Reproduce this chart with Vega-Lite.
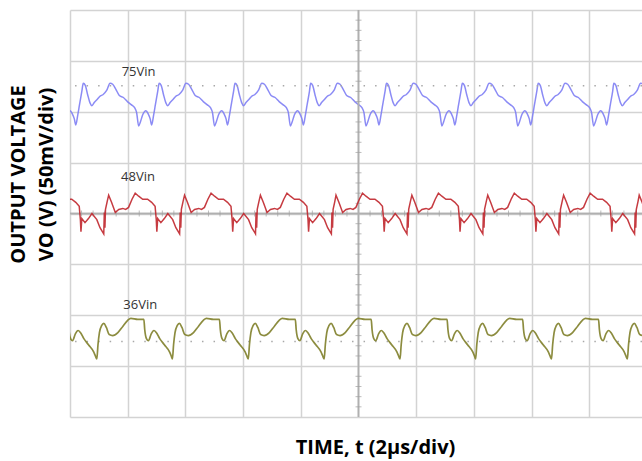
{
  "$schema": "https://vega.github.io/schema/vega-lite/v6.json",
  "width": 572,
  "height": 407,
  "autosize": {"type": "none"},
  "padding": {"left": 70, "top": 10, "right": 0, "bottom": 44},
  "background": "#ffffff",
  "config": {
    "view": {"stroke": null},
    "axis": {"domain": false, "ticks": false, "labels": false, "grid": true, "gridColor": "#d3d3d3", "gridWidth": 1.5, "titleFont": "Open Sans", "titleFontWeight": "bold", "titleColor": "#000000"}
  },
  "datasets": {
    "v75": [
      {"t": -0.25, "v": 286}, {"t": -0.19, "v": 290}, {"t": -0.11, "v": 297}, {"t": 0.0, "v": 301}, {"t": 0.08, "v": 298}, {"t": 0.15, "v": 293}, {"t": 0.2, "v": 287}, {"t": 0.27, "v": 297}, {"t": 0.33, "v": 307}, {"t": 0.41, "v": 320},
      {"t": 0.46, "v": 328}, {"t": 0.53, "v": 326}, {"t": 0.61, "v": 317}, {"t": 0.69, "v": 309}, {"t": 0.76, "v": 306}, {"t": 0.84, "v": 309}, {"t": 0.94, "v": 312}, {"t": 1.03, "v": 315}, {"t": 1.15, "v": 317}, {"t": 1.27, "v": 321}, {"t": 1.39, "v": 328}, {"t": 1.48, "v": 327}, {"t": 1.59, "v": 322}, {"t": 1.71, "v": 316}, {"t": 1.85, "v": 314}, {"t": 1.99, "v": 310}, {"t": 2.12, "v": 307}, {"t": 2.24, "v": 304}, {"t": 2.31, "v": 299}, {"t": 2.38, "v": 286}, {"t": 2.44, "v": 290}, {"t": 2.52, "v": 297}, {"t": 2.63, "v": 301}, {"t": 2.71, "v": 298}, {"t": 2.78, "v": 293}, {"t": 2.83, "v": 287}, {"t": 2.9, "v": 297}, {"t": 2.96, "v": 307}, {"t": 3.04, "v": 320},
      {"t": 3.09, "v": 328}, {"t": 3.16, "v": 326}, {"t": 3.24, "v": 317}, {"t": 3.32, "v": 309}, {"t": 3.39, "v": 306}, {"t": 3.47, "v": 309}, {"t": 3.57, "v": 312}, {"t": 3.66, "v": 315}, {"t": 3.78, "v": 317}, {"t": 3.9, "v": 321}, {"t": 4.02, "v": 328}, {"t": 4.11, "v": 327}, {"t": 4.22, "v": 322}, {"t": 4.34, "v": 316}, {"t": 4.48, "v": 314}, {"t": 4.62, "v": 310}, {"t": 4.75, "v": 307}, {"t": 4.87, "v": 304}, {"t": 4.94, "v": 299}, {"t": 5.01, "v": 286}, {"t": 5.07, "v": 290}, {"t": 5.15, "v": 297}, {"t": 5.26, "v": 301}, {"t": 5.34, "v": 298}, {"t": 5.41, "v": 293}, {"t": 5.46, "v": 287}, {"t": 5.53, "v": 297}, {"t": 5.59, "v": 307}, {"t": 5.67, "v": 320},
      {"t": 5.72, "v": 328}, {"t": 5.79, "v": 326}, {"t": 5.87, "v": 317}, {"t": 5.95, "v": 309}, {"t": 6.02, "v": 306}, {"t": 6.1, "v": 309}, {"t": 6.2, "v": 312}, {"t": 6.29, "v": 315}, {"t": 6.41, "v": 317}, {"t": 6.53, "v": 321}, {"t": 6.65, "v": 328}, {"t": 6.74, "v": 327}, {"t": 6.85, "v": 322}, {"t": 6.97, "v": 316}, {"t": 7.11, "v": 314}, {"t": 7.25, "v": 310}, {"t": 7.38, "v": 307}, {"t": 7.5, "v": 304}, {"t": 7.57, "v": 299}, {"t": 7.64, "v": 286}, {"t": 7.7, "v": 290}, {"t": 7.78, "v": 297}, {"t": 7.89, "v": 301}, {"t": 7.97, "v": 298}, {"t": 8.04, "v": 293}, {"t": 8.09, "v": 287}, {"t": 8.16, "v": 297}, {"t": 8.22, "v": 307}, {"t": 8.3, "v": 320},
      {"t": 8.34, "v": 328}, {"t": 8.41, "v": 326}, {"t": 8.49, "v": 317}, {"t": 8.57, "v": 309}, {"t": 8.64, "v": 306}, {"t": 8.72, "v": 309}, {"t": 8.82, "v": 312}, {"t": 8.91, "v": 315}, {"t": 9.03, "v": 317}, {"t": 9.15, "v": 321}, {"t": 9.27, "v": 328}, {"t": 9.36, "v": 327}, {"t": 9.47, "v": 322}, {"t": 9.59, "v": 316}, {"t": 9.73, "v": 314}, {"t": 9.87, "v": 310}, {"t": 10.0, "v": 307}, {"t": 10.12, "v": 304}, {"t": 10.19, "v": 299}, {"t": 10.26, "v": 286}, {"t": 10.32, "v": 290}, {"t": 10.4, "v": 297}, {"t": 10.51, "v": 301}, {"t": 10.59, "v": 298}, {"t": 10.66, "v": 293}, {"t": 10.71, "v": 287}, {"t": 10.78, "v": 297}, {"t": 10.84, "v": 307}, {"t": 10.92, "v": 320},
      {"t": 10.97, "v": 328}, {"t": 11.04, "v": 326}, {"t": 11.12, "v": 317}, {"t": 11.2, "v": 309}, {"t": 11.27, "v": 306}, {"t": 11.35, "v": 309}, {"t": 11.45, "v": 312}, {"t": 11.54, "v": 315}, {"t": 11.66, "v": 317}, {"t": 11.78, "v": 321}, {"t": 11.9, "v": 328}, {"t": 11.99, "v": 327}, {"t": 12.1, "v": 322}, {"t": 12.22, "v": 316}, {"t": 12.36, "v": 314}, {"t": 12.5, "v": 310}, {"t": 12.63, "v": 307}, {"t": 12.75, "v": 304}, {"t": 12.82, "v": 299}, {"t": 12.89, "v": 286}, {"t": 12.95, "v": 290}, {"t": 13.03, "v": 297}, {"t": 13.14, "v": 301}, {"t": 13.22, "v": 298}, {"t": 13.29, "v": 293}, {"t": 13.34, "v": 287}, {"t": 13.41, "v": 297}, {"t": 13.47, "v": 307}, {"t": 13.55, "v": 320},
      {"t": 13.6, "v": 328}, {"t": 13.67, "v": 326}, {"t": 13.75, "v": 317}, {"t": 13.83, "v": 309}, {"t": 13.9, "v": 306}, {"t": 13.98, "v": 309}, {"t": 14.08, "v": 312}, {"t": 14.17, "v": 315}, {"t": 14.29, "v": 317}, {"t": 14.41, "v": 321}, {"t": 14.53, "v": 328}, {"t": 14.62, "v": 327}, {"t": 14.73, "v": 322}, {"t": 14.85, "v": 316}, {"t": 14.99, "v": 314}, {"t": 15.13, "v": 310}, {"t": 15.26, "v": 307}, {"t": 15.38, "v": 304}, {"t": 15.45, "v": 299}, {"t": 15.52, "v": 286}, {"t": 15.58, "v": 290}, {"t": 15.66, "v": 297}, {"t": 15.77, "v": 301}, {"t": 15.85, "v": 298}, {"t": 15.92, "v": 293}, {"t": 15.97, "v": 287}, {"t": 16.04, "v": 297}, {"t": 16.1, "v": 307}, {"t": 16.18, "v": 320},
      {"t": 16.23, "v": 328}, {"t": 16.3, "v": 326}, {"t": 16.38, "v": 317}, {"t": 16.46, "v": 309}, {"t": 16.53, "v": 306}, {"t": 16.61, "v": 309}, {"t": 16.71, "v": 312}, {"t": 16.8, "v": 315}, {"t": 16.92, "v": 317}, {"t": 17.04, "v": 321}, {"t": 17.16, "v": 328}, {"t": 17.25, "v": 327}, {"t": 17.36, "v": 322}, {"t": 17.48, "v": 316}, {"t": 17.62, "v": 314}, {"t": 17.76, "v": 310}, {"t": 17.89, "v": 307}, {"t": 18.01, "v": 304}, {"t": 18.08, "v": 299}, {"t": 18.15, "v": 286}, {"t": 18.21, "v": 290}, {"t": 18.29, "v": 297}, {"t": 18.4, "v": 301}, {"t": 18.48, "v": 298}, {"t": 18.55, "v": 293}, {"t": 18.6, "v": 287}, {"t": 18.67, "v": 297}, {"t": 18.73, "v": 307}, {"t": 18.81, "v": 320},
      {"t": 18.85, "v": 328}, {"t": 18.92, "v": 326}, {"t": 19.0, "v": 317}, {"t": 19.08, "v": 309}, {"t": 19.15, "v": 306}, {"t": 19.23, "v": 309}, {"t": 19.33, "v": 312}, {"t": 19.42, "v": 315}, {"t": 19.54, "v": 317}, {"t": 19.66, "v": 321}, {"t": 19.78, "v": 328}, {"t": 19.87, "v": 327}, {"t": 19.98, "v": 322}
    ],
    "v48": [
      {"t": -0.25, "v": 217}, {"t": -0.11, "v": 214}, {"t": 0.06, "v": 214}, {"t": 0.2, "v": 211}, {"t": 0.32, "v": 207}, {"t": 0.36, "v": 194}, {"t": 0.38, "v": 182}, {"t": 0.41, "v": 195}, {"t": 0.52, "v": 191}, {"t": 0.64, "v": 195}, {"t": 0.76, "v": 200}, {"t": 0.93, "v": 194}, {"t": 1.04, "v": 186}, {"t": 1.17, "v": 180}, {"t": 1.19, "v": 201}, {"t": 1.21, "v": 186}, {"t": 1.23, "v": 204}, {"t": 1.29, "v": 212},
      {"t": 1.34, "v": 218}, {"t": 1.44, "v": 211}, {"t": 1.57, "v": 201}, {"t": 1.69, "v": 204}, {"t": 1.83, "v": 205}, {"t": 1.93, "v": 204}, {"t": 2.03, "v": 206}, {"t": 2.15, "v": 214}, {"t": 2.26, "v": 220}, {"t": 2.38, "v": 217}, {"t": 2.52, "v": 214}, {"t": 2.69, "v": 214}, {"t": 2.83, "v": 211}, {"t": 2.95, "v": 207}, {"t": 2.99, "v": 194}, {"t": 3.01, "v": 182}, {"t": 3.04, "v": 195}, {"t": 3.15, "v": 191}, {"t": 3.27, "v": 195}, {"t": 3.39, "v": 200}, {"t": 3.56, "v": 194}, {"t": 3.67, "v": 186}, {"t": 3.8, "v": 180}, {"t": 3.82, "v": 201}, {"t": 3.84, "v": 186}, {"t": 3.86, "v": 204}, {"t": 3.92, "v": 212},
      {"t": 3.97, "v": 218}, {"t": 4.07, "v": 211}, {"t": 4.2, "v": 201}, {"t": 4.32, "v": 204}, {"t": 4.46, "v": 205}, {"t": 4.56, "v": 204}, {"t": 4.66, "v": 206}, {"t": 4.78, "v": 214}, {"t": 4.89, "v": 220}, {"t": 5.01, "v": 217}, {"t": 5.15, "v": 214}, {"t": 5.32, "v": 214}, {"t": 5.46, "v": 211}, {"t": 5.58, "v": 207}, {"t": 5.62, "v": 194}, {"t": 5.64, "v": 182}, {"t": 5.67, "v": 195}, {"t": 5.78, "v": 191}, {"t": 5.9, "v": 195}, {"t": 6.02, "v": 200}, {"t": 6.19, "v": 194}, {"t": 6.3, "v": 186}, {"t": 6.43, "v": 180}, {"t": 6.45, "v": 201}, {"t": 6.47, "v": 186}, {"t": 6.49, "v": 204}, {"t": 6.55, "v": 212},
      {"t": 6.6, "v": 218}, {"t": 6.7, "v": 211}, {"t": 6.83, "v": 201}, {"t": 6.95, "v": 204}, {"t": 7.09, "v": 205}, {"t": 7.19, "v": 204}, {"t": 7.29, "v": 206}, {"t": 7.41, "v": 214}, {"t": 7.52, "v": 220}, {"t": 7.64, "v": 217}, {"t": 7.78, "v": 214}, {"t": 7.95, "v": 214}, {"t": 8.09, "v": 211}, {"t": 8.21, "v": 207}, {"t": 8.25, "v": 194}, {"t": 8.27, "v": 182}, {"t": 8.3, "v": 195}, {"t": 8.41, "v": 191}, {"t": 8.53, "v": 195}, {"t": 8.65, "v": 200}, {"t": 8.82, "v": 194}, {"t": 8.93, "v": 186}, {"t": 9.06, "v": 180}, {"t": 9.08, "v": 201}, {"t": 9.1, "v": 186}, {"t": 9.12, "v": 204}, {"t": 9.18, "v": 212},
      {"t": 9.22, "v": 218}, {"t": 9.32, "v": 211}, {"t": 9.45, "v": 201}, {"t": 9.57, "v": 204}, {"t": 9.71, "v": 205}, {"t": 9.81, "v": 204}, {"t": 9.91, "v": 206}, {"t": 10.03, "v": 214}, {"t": 10.14, "v": 220}, {"t": 10.26, "v": 217}, {"t": 10.4, "v": 214}, {"t": 10.57, "v": 214}, {"t": 10.71, "v": 211}, {"t": 10.83, "v": 207}, {"t": 10.87, "v": 194}, {"t": 10.89, "v": 182}, {"t": 10.92, "v": 195}, {"t": 11.03, "v": 191}, {"t": 11.15, "v": 195}, {"t": 11.27, "v": 200}, {"t": 11.44, "v": 194}, {"t": 11.55, "v": 186}, {"t": 11.68, "v": 180}, {"t": 11.7, "v": 201}, {"t": 11.72, "v": 186}, {"t": 11.74, "v": 204}, {"t": 11.8, "v": 212},
      {"t": 11.85, "v": 218}, {"t": 11.95, "v": 211}, {"t": 12.08, "v": 201}, {"t": 12.2, "v": 204}, {"t": 12.34, "v": 205}, {"t": 12.44, "v": 204}, {"t": 12.54, "v": 206}, {"t": 12.66, "v": 214}, {"t": 12.77, "v": 220}, {"t": 12.89, "v": 217}, {"t": 13.03, "v": 214}, {"t": 13.2, "v": 214}, {"t": 13.34, "v": 211}, {"t": 13.46, "v": 207}, {"t": 13.5, "v": 194}, {"t": 13.52, "v": 182}, {"t": 13.55, "v": 195}, {"t": 13.66, "v": 191}, {"t": 13.78, "v": 195}, {"t": 13.9, "v": 200}, {"t": 14.07, "v": 194}, {"t": 14.18, "v": 186}, {"t": 14.31, "v": 180}, {"t": 14.33, "v": 201}, {"t": 14.35, "v": 186}, {"t": 14.37, "v": 204}, {"t": 14.43, "v": 212},
      {"t": 14.48, "v": 218}, {"t": 14.58, "v": 211}, {"t": 14.71, "v": 201}, {"t": 14.83, "v": 204}, {"t": 14.97, "v": 205}, {"t": 15.07, "v": 204}, {"t": 15.17, "v": 206}, {"t": 15.29, "v": 214}, {"t": 15.4, "v": 220}, {"t": 15.52, "v": 217}, {"t": 15.66, "v": 214}, {"t": 15.83, "v": 214}, {"t": 15.97, "v": 211}, {"t": 16.09, "v": 207}, {"t": 16.13, "v": 194}, {"t": 16.15, "v": 182}, {"t": 16.18, "v": 195}, {"t": 16.29, "v": 191}, {"t": 16.41, "v": 195}, {"t": 16.53, "v": 200}, {"t": 16.7, "v": 194}, {"t": 16.81, "v": 186}, {"t": 16.94, "v": 180}, {"t": 16.96, "v": 201}, {"t": 16.98, "v": 186}, {"t": 17.0, "v": 204}, {"t": 17.06, "v": 212},
      {"t": 17.11, "v": 218}, {"t": 17.21, "v": 211}, {"t": 17.34, "v": 201}, {"t": 17.46, "v": 204}, {"t": 17.6, "v": 205}, {"t": 17.7, "v": 204}, {"t": 17.8, "v": 206}, {"t": 17.92, "v": 214}, {"t": 18.03, "v": 220}, {"t": 18.15, "v": 217}, {"t": 18.29, "v": 214}, {"t": 18.46, "v": 214}, {"t": 18.6, "v": 211}, {"t": 18.72, "v": 207}, {"t": 18.76, "v": 194}, {"t": 18.78, "v": 182}, {"t": 18.81, "v": 195}, {"t": 18.92, "v": 191}, {"t": 19.04, "v": 195}, {"t": 19.16, "v": 200}, {"t": 19.33, "v": 194}, {"t": 19.44, "v": 186}, {"t": 19.57, "v": 180}, {"t": 19.59, "v": 201}, {"t": 19.61, "v": 186}, {"t": 19.63, "v": 204}, {"t": 19.69, "v": 212},
      {"t": 19.73, "v": 218}, {"t": 19.83, "v": 211}, {"t": 19.96, "v": 201}
    ],
    "v36": [
      {"t": -0.28, "v": 96}, {"t": -0.07, "v": 96}, {"t": -0.04, "v": 86}, {"t": 0.02, "v": 77}, {"t": 0.09, "v": 75}, {"t": 0.19, "v": 82}, {"t": 0.28, "v": 85}, {"t": 0.36, "v": 83}, {"t": 0.48, "v": 77}, {"t": 0.64, "v": 71}, {"t": 0.82, "v": 64}, {"t": 0.88, "v": 60},
      {"t": 0.93, "v": 57}, {"t": 0.97, "v": 71}, {"t": 1.02, "v": 83}, {"t": 1.1, "v": 90}, {"t": 1.17, "v": 92}, {"t": 1.26, "v": 88}, {"t": 1.36, "v": 81}, {"t": 1.48, "v": 80}, {"t": 1.66, "v": 83}, {"t": 1.83, "v": 89}, {"t": 2.0, "v": 95}, {"t": 2.11, "v": 97}, {"t": 2.35, "v": 96}, {"t": 2.56, "v": 96}, {"t": 2.59, "v": 86}, {"t": 2.65, "v": 77}, {"t": 2.72, "v": 75}, {"t": 2.82, "v": 82}, {"t": 2.91, "v": 85}, {"t": 2.99, "v": 83}, {"t": 3.11, "v": 77}, {"t": 3.27, "v": 71}, {"t": 3.45, "v": 64}, {"t": 3.51, "v": 60},
      {"t": 3.55, "v": 57}, {"t": 3.59, "v": 71}, {"t": 3.64, "v": 83}, {"t": 3.72, "v": 90}, {"t": 3.79, "v": 92}, {"t": 3.88, "v": 88}, {"t": 3.98, "v": 81}, {"t": 4.1, "v": 80}, {"t": 4.28, "v": 83}, {"t": 4.45, "v": 89}, {"t": 4.62, "v": 95}, {"t": 4.73, "v": 97}, {"t": 4.97, "v": 96}, {"t": 5.18, "v": 96}, {"t": 5.21, "v": 86}, {"t": 5.27, "v": 77}, {"t": 5.34, "v": 75}, {"t": 5.44, "v": 82}, {"t": 5.53, "v": 85}, {"t": 5.61, "v": 83}, {"t": 5.73, "v": 77}, {"t": 5.89, "v": 71}, {"t": 6.07, "v": 64}, {"t": 6.13, "v": 60},
      {"t": 6.18, "v": 57}, {"t": 6.22, "v": 71}, {"t": 6.27, "v": 83}, {"t": 6.35, "v": 90}, {"t": 6.42, "v": 92}, {"t": 6.51, "v": 88}, {"t": 6.61, "v": 81}, {"t": 6.73, "v": 80}, {"t": 6.91, "v": 83}, {"t": 7.08, "v": 89}, {"t": 7.25, "v": 95}, {"t": 7.36, "v": 97}, {"t": 7.6, "v": 96}, {"t": 7.81, "v": 96}, {"t": 7.84, "v": 86}, {"t": 7.9, "v": 77}, {"t": 7.97, "v": 75}, {"t": 8.07, "v": 82}, {"t": 8.16, "v": 85}, {"t": 8.24, "v": 83}, {"t": 8.36, "v": 77}, {"t": 8.52, "v": 71}, {"t": 8.7, "v": 64}, {"t": 8.76, "v": 60},
      {"t": 8.81, "v": 57}, {"t": 8.85, "v": 71}, {"t": 8.9, "v": 83}, {"t": 8.98, "v": 90}, {"t": 9.05, "v": 92}, {"t": 9.14, "v": 88}, {"t": 9.24, "v": 81}, {"t": 9.36, "v": 80}, {"t": 9.54, "v": 83}, {"t": 9.71, "v": 89}, {"t": 9.88, "v": 95}, {"t": 9.99, "v": 97}, {"t": 10.23, "v": 96}, {"t": 10.44, "v": 96}, {"t": 10.47, "v": 86}, {"t": 10.53, "v": 77}, {"t": 10.6, "v": 75}, {"t": 10.7, "v": 82}, {"t": 10.79, "v": 85}, {"t": 10.87, "v": 83}, {"t": 10.99, "v": 77}, {"t": 11.15, "v": 71}, {"t": 11.33, "v": 64}, {"t": 11.39, "v": 60},
      {"t": 11.44, "v": 57}, {"t": 11.48, "v": 71}, {"t": 11.53, "v": 83}, {"t": 11.61, "v": 90}, {"t": 11.68, "v": 92}, {"t": 11.77, "v": 88}, {"t": 11.87, "v": 81}, {"t": 11.99, "v": 80}, {"t": 12.17, "v": 83}, {"t": 12.34, "v": 89}, {"t": 12.51, "v": 95}, {"t": 12.62, "v": 97}, {"t": 12.86, "v": 96}, {"t": 13.07, "v": 96}, {"t": 13.1, "v": 86}, {"t": 13.16, "v": 77}, {"t": 13.23, "v": 75}, {"t": 13.33, "v": 82}, {"t": 13.42, "v": 85}, {"t": 13.5, "v": 83}, {"t": 13.62, "v": 77}, {"t": 13.78, "v": 71}, {"t": 13.96, "v": 64}, {"t": 14.02, "v": 60},
      {"t": 14.06, "v": 57}, {"t": 14.1, "v": 71}, {"t": 14.15, "v": 83}, {"t": 14.23, "v": 90}, {"t": 14.3, "v": 92}, {"t": 14.39, "v": 88}, {"t": 14.49, "v": 81}, {"t": 14.61, "v": 80}, {"t": 14.79, "v": 83}, {"t": 14.96, "v": 89}, {"t": 15.13, "v": 95}, {"t": 15.24, "v": 97}, {"t": 15.48, "v": 96}, {"t": 15.69, "v": 96}, {"t": 15.72, "v": 86}, {"t": 15.78, "v": 77}, {"t": 15.85, "v": 75}, {"t": 15.95, "v": 82}, {"t": 16.04, "v": 85}, {"t": 16.12, "v": 83}, {"t": 16.24, "v": 77}, {"t": 16.4, "v": 71}, {"t": 16.58, "v": 64}, {"t": 16.64, "v": 60},
      {"t": 16.69, "v": 57}, {"t": 16.73, "v": 71}, {"t": 16.78, "v": 83}, {"t": 16.86, "v": 90}, {"t": 16.93, "v": 92}, {"t": 17.02, "v": 88}, {"t": 17.12, "v": 81}, {"t": 17.24, "v": 80}, {"t": 17.42, "v": 83}, {"t": 17.59, "v": 89}, {"t": 17.76, "v": 95}, {"t": 17.87, "v": 97}, {"t": 18.11, "v": 96}, {"t": 18.32, "v": 96}, {"t": 18.35, "v": 86}, {"t": 18.41, "v": 77}, {"t": 18.48, "v": 75}, {"t": 18.58, "v": 82}, {"t": 18.67, "v": 85}, {"t": 18.75, "v": 83}, {"t": 18.87, "v": 77}, {"t": 19.03, "v": 71}, {"t": 19.21, "v": 64}, {"t": 19.27, "v": 60},
      {"t": 19.32, "v": 57}, {"t": 19.36, "v": 71}, {"t": 19.41, "v": 83}, {"t": 19.49, "v": 90}, {"t": 19.56, "v": 92}, {"t": 19.65, "v": 88}, {"t": 19.75, "v": 81}, {"t": 19.87, "v": 80}, {"t": 20.05, "v": 83}
    ],
    "minorT": [
      {"t": 0.4}, {"t": 0.8}, {"t": 1.2}, {"t": 1.6}, {"t": 2.4}, {"t": 2.8}, {"t": 3.2}, {"t": 3.6}, {"t": 4.4}, {"t": 4.8}, {"t": 5.2}, {"t": 5.6}, {"t": 6.4}, {"t": 6.8}, {"t": 7.2}, {"t": 7.6}, {"t": 8.4}, {"t": 8.8}, {"t": 9.2}, {"t": 9.6}, {"t": 10.4}, {"t": 10.8}, {"t": 11.2}, {"t": 11.6}, {"t": 12.4}, {"t": 12.8}, {"t": 13.2}, {"t": 13.6}, {"t": 14.4}, {"t": 14.8}, {"t": 15.2}, {"t": 15.6}, {"t": 16.4}, {"t": 16.8}, {"t": 17.2}, {"t": 17.6}, {"t": 18.4}, {"t": 18.8}, {"t": 19.2}, {"t": 19.6}
    ],
    "minorV": [
      {"v": 10}, {"v": 20}, {"v": 30}, {"v": 40}, {"v": 60}, {"v": 70}, {"v": 80}, {"v": 90}, {"v": 110}, {"v": 120}, {"v": 130}, {"v": 140}, {"v": 160}, {"v": 170}, {"v": 180}, {"v": 190}, {"v": 210}, {"v": 220}, {"v": 230}, {"v": 240}, {"v": 260}, {"v": 270}, {"v": 280}, {"v": 290}, {"v": 310}, {"v": 320}, {"v": 330}, {"v": 340}, {"v": 360}, {"v": 370}, {"v": 380}, {"v": 390}
    ],
    "refs": [{"v": 325.6}, {"v": 74.3}],
    "labels": [
      {"t": 1.79, "v": 338.7, "label": "75Vin"},
      {"t": 1.77, "v": 235.5, "label": "48Vin"},
      {"t": 1.85, "v": 110.4, "label": "36Vin"}
    ]
  },
  "layer": [
    {
      "data": {"name": "v75"},
      "mark": {"type": "line", "color": "#7e7ef4", "strokeWidth": 1.5, "opacity": 0.9, "clip": true, "interpolate": "monotone"},
      "encoding": {
        "x": {
          "field": "t", "type": "quantitative",
          "scale": {"domain": [0, 19.827], "nice": false, "zero": false},
          "axis": {"values": [0, 2, 4, 6, 8, 10, 12, 14, 16, 18], "title": "TIME, t (2µs/div)", "titleFontSize": 20, "titleX": 305, "titleY": 30, "titleAlign": "center", "titleBaseline": "middle"}
        },
        "y": {
          "field": "v", "type": "quantitative",
          "scale": {"domain": [0, 400], "nice": false, "zero": false},
          "axis": {"values": [0, 50, 100, 150, 200, 250, 300, 350, 400], "title": ["OUTPUT VOLTAGE", "VO (V) (50mV/div)"], "titleFontSize": 20, "titleLineHeight": 28, "titleX": -52, "titleY": 164, "titleAngle": -90, "titleAlign": "center", "titleBaseline": "middle"}
        }
      }
    },
    {
      "data": {"name": "refs"},
      "mark": {"type": "rule", "color": "#a8a8a8", "strokeWidth": 1.5, "strokeDash": [1.5, 10.04]},
      "encoding": {
        "y": {"field": "v", "type": "quantitative"}
      }
    },
    {
      "data": {"name": "refs"},
      "mark": {"type": "rule", "color": "#b0b0b0", "strokeWidth": 1.5},
      "encoding": {"x": {"datum": 10, "type": "quantitative"}}
    },
    {
      "data": {"name": "refs"},
      "mark": {"type": "rule", "color": "#b0b0b0", "strokeWidth": 1.5},
      "encoding": {"y": {"datum": 200, "type": "quantitative"}}
    },
    {
      "data": {"name": "minorT"},
      "mark": {"type": "tick", "orient": "vertical", "color": "#a0a0a0", "size": 6, "thickness": 1},
      "encoding": {
        "x": {"field": "t", "type": "quantitative"},
        "y": {"datum": 200, "type": "quantitative"}
      }
    },
    {
      "data": {"name": "minorV"},
      "mark": {"type": "tick", "orient": "horizontal", "color": "#a0a0a0", "size": 6, "thickness": 1},
      "encoding": {
        "x": {"datum": 10, "type": "quantitative"},
        "y": {"field": "v", "type": "quantitative"}
      }
    },
    {
      "data": {"name": "v48"},
      "mark": {"type": "line", "color": "#c0262c", "strokeWidth": 1.5, "opacity": 0.9, "clip": true},
      "encoding": {
        "x": {"field": "t", "type": "quantitative"},
        "y": {"field": "v", "type": "quantitative"}
      }
    },
    {
      "data": {"name": "v36"},
      "mark": {"type": "line", "color": "#80802a", "strokeWidth": 1.7, "opacity": 0.9, "clip": true, "interpolate": "monotone"},
      "encoding": {
        "x": {"field": "t", "type": "quantitative"},
        "y": {"field": "v", "type": "quantitative"}
      }
    },
    {
      "data": {"name": "labels"},
      "mark": {"type": "text", "align": "left", "baseline": "middle", "font": "Open Sans", "fontSize": 13, "color": "#333333"},
      "encoding": {
        "x": {"field": "t", "type": "quantitative"},
        "y": {"field": "v", "type": "quantitative"},
        "text": {"field": "label", "type": "nominal"}
      }
    }
  ]
}
